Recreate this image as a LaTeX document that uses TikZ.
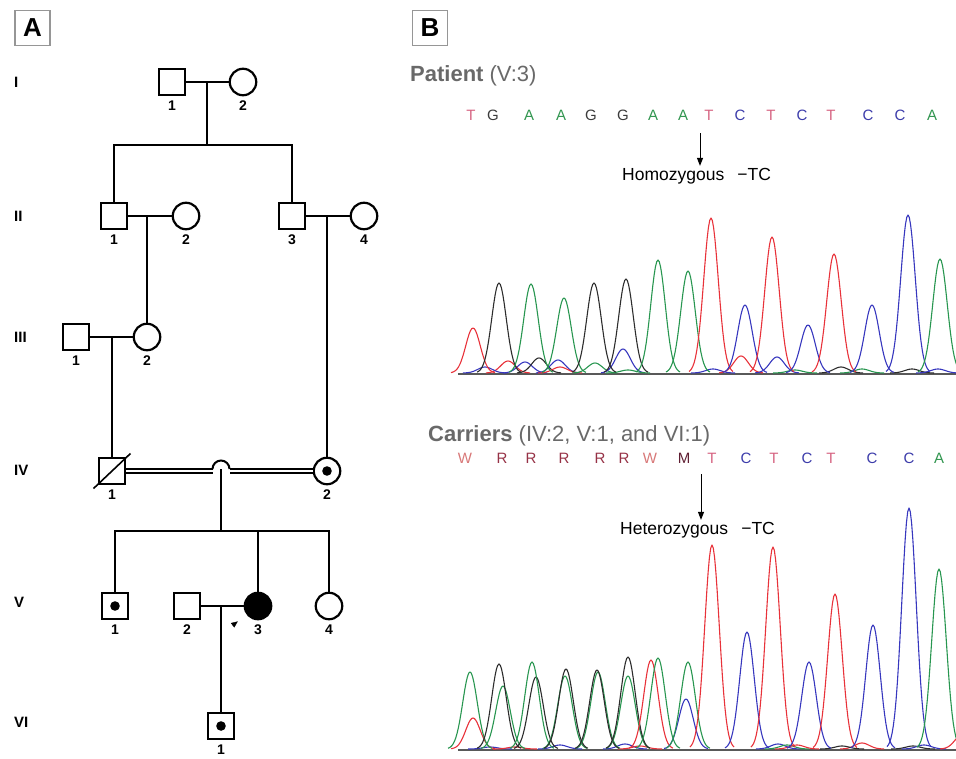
\documentclass[tikz,border=0pt]{standalone}
\usepackage{fontspec}
\setmainfont{Liberation Sans}
\usetikzlibrary{arrows.meta, positioning, calc}
\definecolor{trred}{RGB}{232, 50, 58}
\definecolor{trblack}{RGB}{45, 45, 45}
\definecolor{trgreen}{RGB}{40, 150, 80}
\definecolor{trblue}{RGB}{55, 55, 190}
\definecolor{baseT}{RGB}{214, 100, 130}
\definecolor{baseG}{RGB}{60, 60, 60}
\definecolor{baseA}{RGB}{50, 150, 80}
\definecolor{baseC}{RGB}{60, 60, 170}
\definecolor{baseW}{RGB}{216, 120, 120}
\definecolor{baseR}{RGB}{150, 50, 70}
\definecolor{baseM}{RGB}{95, 30, 50}
\definecolor{hdrgray}{RGB}{105, 105, 105}
\definecolor{framegray}{RGB}{150, 150, 150}
\tikzset{
  indiv/.style={draw, line width=2.2pt, inner sep=0pt, minimum size=26.5pt},
  male/.style={indiv, rectangle},
  female/.style={indiv, circle},
  affected/.style={fill=black},
  carrier/.style={path picture={\fill (path picture bounding box.center) circle (4.8pt);}},
  idlbl/.style={font=\fontsize{14}{14}\selectfont\bfseries, inner sep=4pt},
  genlbl/.style={anchor=west, font=\fontsize{15}{15}\selectfont\bfseries, inner sep=0pt},
  panelbox/.style={draw=framegray, line width=1.4pt, minimum size=35pt, inner sep=0pt, font=\fontsize{26}{26}\selectfont\bfseries},
  rel/.style={line width=2pt},
  consang/.style={double, line width=1.6pt, double distance=2.6pt},
  probarrow/.style={-{Triangle[length=6.5pt, width=5.5pt]}, line width=0.4pt},
  hdr/.style={anchor=west, text=hdrgray, font=\fontsize{22}{25}\selectfont, inner sep=0pt},
  seqbase/.style={font=\fontsize{15}{15}\selectfont, inner sep=0pt},
  mutlbl/.style={anchor=west, font=\fontsize{17.5}{20}\selectfont, inner sep=2pt},
  mutarrow/.style={-{Triangle[length=8pt, width=6pt]}, line width=1pt},
  trace/.style={line width=1.1pt, line join=round},
  chrombase/.style={line width=2pt, draw=black!65},
}

\begin{document}
\begin{tikzpicture}[x=1pt, y=-1pt]
  \useasboundingbox (0,0) rectangle (956,758);
  \node[panelbox] (pnlA) at (32.5,28) {A};
  \node[panelbox] (pnlB) at (430,28) {B};
  \foreach \g/\gy in {I/82, II/216, III/337, IV/470, V/602, VI/722}
    \node[genlbl] (gen\g) at (14,\gy) {\g};

  \node[male, label={[idlbl]below:1}] (i1) at (172,82) {};
  \node[female, label={[idlbl]below:2}] (i2) at (243,82) {};
  \node[male, label={[idlbl]below:1}] (ii1) at (114,216) {};
  \node[female, label={[idlbl]below:2}] (ii2) at (186,216) {};
  \node[male, label={[idlbl]below:3}] (ii3) at (292,216) {};
  \node[female, label={[idlbl]below:4}] (ii4) at (364,216) {};
  \node[male, label={[idlbl]below:1}] (iii1) at (76,337) {};
  \node[female, label={[idlbl]below:2}] (iii2) at (147,337) {};
  \node[male, label={[idlbl]below:1}] (iv1) at (112,471) {};
  \node[female, carrier, label={[idlbl]below:2}] (iv2) at (327,471) {};
  \node[male, carrier, label={[idlbl]below:1}] (v1) at (115,606) {};
  \node[male, label={[idlbl]below:2}] (v2) at (187,606) {};
  \node[female, affected, label={[idlbl]below:3}] (v3) at (258,606) {};
  \node[female, label={[idlbl]below:4}] (v4) at (329,606) {};
  \node[male, carrier, label={[idlbl]below:1}] (vi1) at (221,726) {};

  \coordinate (m1) at (207,82);
  \coordinate (s1) at (207,145);
  \coordinate (m2) at (147,216);
  \coordinate (m3) at (327,216);
  \coordinate (m4) at (112,337);
  \coordinate (hopL) at (213,471);
  \coordinate (hopR) at (230,471);
  \coordinate (m5) at (221,469);
  \coordinate (s5) at (221,531);
  \coordinate (m6) at (221,606);

  \draw[rel] (i1) -- (i2);
  \draw[rel] (m1) -- (s1);
  \draw[rel] (ii1.north) |- (s1) -| (ii3.north);
  \draw[rel] (ii1) -- (ii2);
  \draw[rel] (ii3) -- (ii4);
  \draw[rel] (m2) -- (iii2.north);
  \draw[rel] (m3) -- (iv2.north);
  \draw[rel] (iii1) -- (iii2);
  \draw[rel] (m4) -- (iv1.north);
  \draw[consang] (iv1.east) -- (hopL);
  \draw[consang] (hopR) -- (iv2.west);
  \draw[rel] (212.5,469) arc[start angle=180, end angle=0, radius=8.5pt];
  \draw[rel] (m5) -- (s5);
  \draw[rel] (v1.north) |- (s5) -| (v4.north);
  \draw[rel] (v3.north) -- (v3.north |- s5);
  \draw[rel] (v2) -- (v3);
  \draw[rel] (m6) -- (vi1.north);
  \draw[line width=1.6pt] ($(iv1)+(-18.5,17.5)$) -- ($(iv1)+(18.5,-17.5)$);
  \coordinate (pb) at (233,625);
  \draw[probarrow] (pb) -- ($(pb)!6pt!(v3)$);

  \node[hdr] (hpat) at (410,76) {\textbf{Patient} (V:3)};
  \foreach \b/\bx [count=\k] in {T/471, G/493, A/529, A/561, G/591, G/623, A/653, A/683, T/709, C/740, T/771, C/802, T/831, C/868, C/900, A/932}
    \node[seqbase, text=base\b] (pat\k) at (\bx,115) {\b};
  \node[mutlbl] (homo) at (620,176) {Homozygous\hspace{0.75em}−TC};
  \coordinate (patcut) at (700,133);
  \draw[mutarrow] (patcut) -- (patcut |- homo.north);

  \draw[chrombase] (458,374) -- (956,374);
  \foreach \col/\cx/\h in {trred/508/12, trblue/485/6, trblue/525/11, trblack/539/15, trblue/558/13, trred/560/6, trgreen/595/10, trblue/623/24, trgreen/628/3, trblue/713/4, trred/741/17, trblue/777/16, trgreen/795/3, trblack/841/6, trgreen/862/4, trblack/912/4, trblue/938/4,
      trred/473/45, trblack/499/90, trgreen/531/89, trgreen/564/75, trblack/594/90, trblack/626/94, trgreen/658/113, trgreen/688/102, trred/711/155, trblue/745/68, trred/772/136, trblue/808/48, trred/834/119, trblue/872/68, trblue/908/158, trgreen/940/114}
    \draw[trace, \col] plot[domain=\cx-22:\cx+22, samples=35] (\x, {373-\h*exp(-((\x-\cx)^2)/105)});

  \node[hdr] (hcar) at (428,436) {\textbf{Carriers} (IV:2, V:1, and VI:1)};
  \foreach \b/\bx [count=\k] in {W/465, R/502, R/531, R/564, R/600, R/624, W/650, M/684, T/712, C/746, T/774, C/807, T/831, C/872, C/909, A/939}
    \node[seqbase, text=base\b] (car\k) at (\bx,458) {\b};
  \node[mutlbl] (hetero) at (618,530) {Heterozygous\hspace{0.75em}−TC};
  \coordinate (carcut) at (701,474);
  \draw[mutarrow] (carcut) -- (carcut |- hetero.north);

  \draw[chrombase] (458,750) -- (956,750);
  \foreach \col/\cx/\h in {trblue/490/2, trred/515/2, trblue/560/4, trblue/625/5, trred/640/3, trblue/778/5, trgreen/787/4, trred/797/4, trred/862/6, trblack/842/3, trblack/913/3, trblue/924/4, trred/962/14,
      trred/473/31, trgreen/470/77, trgreen/503/63, trblack/499/85, trblack/536/72, trgreen/532/87, trgreen/565/73, trblack/566/80, trgreen/598/77, trblack/597/79, trgreen/628/73, trblack/628/92, trred/651/89, trgreen/658/91, trblue/686/50, trgreen/688/87, trred/712/204, trblue/747/117, trred/773/202, trblue/809/87, trred/835/155, trblue/873/124, trblue/909/241, trgreen/939/180}
    \draw[trace, \col] plot[domain=\cx-22:\cx+22, samples=35] (\x, {749-\h*exp(-((\x-\cx)^2)/105)});
\end{tikzpicture}
\end{document}
